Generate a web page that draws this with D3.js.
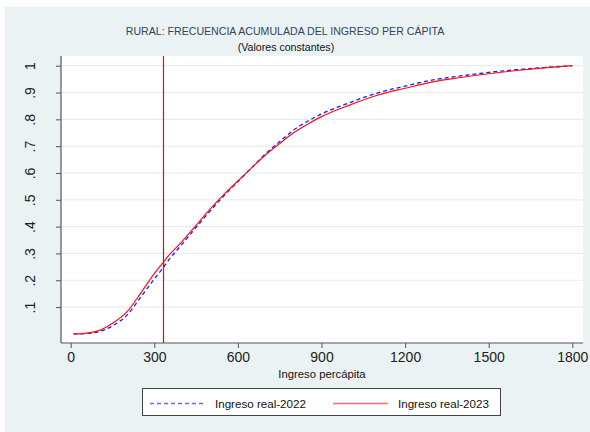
<!DOCTYPE html>
<html><head><meta charset="utf-8">
<script src="https://cdn.jsdelivr.net/npm/d3@7"></script>
<style>body{margin:0;background:#fff}svg{display:block}text{font-family:"Liberation Sans",Arial,sans-serif}</style>
</head><body><svg id="c" width="590" height="432"></svg>
<script>
const income = [10, 50, 100, 150, 200, 250, 300, 334, 350, 400, 450, 500, 550, 600, 650, 700, 750, 800, 850, 900, 1000, 1100, 1200, 1300, 1400, 1500, 1600, 1700, 1800];
const cdf2022 = [0, 0.001, 0.008, 0.03, 0.068, 0.135, 0.205, 0.25, 0.273, 0.335, 0.397, 0.458, 0.515, 0.568, 0.62, 0.672, 0.717, 0.76, 0.793, 0.82, 0.862, 0.898, 0.924, 0.947, 0.962, 0.975, 0.985, 0.993, 1.0];
const cdf2023 = [0, 0.002, 0.012, 0.04, 0.08, 0.15, 0.225, 0.269, 0.29, 0.345, 0.405, 0.465, 0.52, 0.57, 0.62, 0.668, 0.71, 0.75, 0.782, 0.81, 0.853, 0.89, 0.916, 0.94, 0.956, 0.97, 0.982, 0.992, 1.0];
const povertyLine = 333;
const xTicks = [0, 300, 600, 900, 1200, 1500, 1800];
const yTicks = [0.1, 0.2, 0.3, 0.4, 0.5, 0.6, 0.7, 0.8, 0.9, 1];
const yTickLabels = [".1", ".2", ".3", ".4", ".5", ".6", ".7", ".8", ".9", "1"];
const seriesNames = ["Ingreso real-2022", "Ingreso real-2023"];
const title = "RURAL: FRECUENCIA ACUMULADA DEL INGRESO PER CÁPITA";
const subtitle = "(Valores constantes)";
const xLabel = "Ingreso percápita";

const svg = d3.select("#c");
svg.append("rect").attr("x",5).attr("y",7).attr("width",585).attr("height",425).attr("fill","#EAF2F3");

const L=61, R=583, T=56, B=343;
svg.append("rect").attr("x",L).attr("y",T).attr("width",R-L).attr("height",B-T).attr("fill","#fff");

const x = d3.scaleLinear().domain([0,1800]).range([70.7,572.3]);
const y = d3.scaleLinear().domain([0,1]).range([333.9,65.7]);

// gridlines
svg.append("g").selectAll("line").data(yTicks).join("line")
  .attr("x1",L).attr("x2",R).attr("y1",d=>y(d)).attr("y2",d=>y(d))
  .attr("stroke","#E6EDEF").attr("stroke-width",1.2);

// y axis
const yAxis = svg.append("g").attr("transform",`translate(${L},0)`)
  .call(d3.axisLeft(y).tickValues(yTicks).tickSize(5).tickFormat((d,i)=>yTickLabels[i]));
yAxis.select(".domain").attr("d",`M0,${T}V${B}`).attr("stroke","#555").attr("stroke-width",1.2);
yAxis.selectAll(".tick line").attr("stroke","#555");
yAxis.selectAll(".tick text").attr("transform","rotate(-90)").attr("x",0).attr("y",-26)
  .attr("dy",0).attr("text-anchor","middle").attr("font-size",14).attr("fill","#222");

// x axis
const xAxis = svg.append("g").attr("transform",`translate(0,${B})`)
  .call(d3.axisBottom(x).tickValues(xTicks).tickSize(5).tickFormat(d3.format("d")));
xAxis.select(".domain").attr("d",`M${L},0H${R}`).attr("stroke","#555").attr("stroke-width",1.2);
xAxis.selectAll(".tick line").attr("stroke","#555");
xAxis.selectAll(".tick text").attr("y",19).attr("dy",0).attr("font-size",14).attr("fill","#222");

// lines
const line = (vals) => d3.line().x((d,i)=>x(income[i])).y(d=>y(d)).curve(d3.curveMonotoneX)(vals);
svg.append("path").attr("d",line(cdf2022)).attr("fill","none").attr("stroke","#1a1aff")
  .attr("stroke-width",1.3).attr("stroke-dasharray","4,3");
svg.append("path").attr("d",line(cdf2023)).attr("fill","none").attr("stroke","#ff1010")
  .attr("stroke-width",1.2);

// vertical line
const vx = Math.round(x(povertyLine)) + 0.5;
svg.append("line").attr("x1",vx).attr("x2",vx).attr("y1",T).attr("y2",B)
  .style("stroke","#ff0000").style("stroke-width","1.2px");

// titles
svg.append("text").attr("x",285).attr("y",35).attr("text-anchor","middle").attr("font-size",10.6)
  .attr("fill","#34425f").text(title);
svg.append("text").attr("x",286).attr("y",50.5).attr("text-anchor","middle").attr("font-size",10.6)
  .attr("fill","#111").text(subtitle);
svg.append("text").attr("x",(L+R)/2).attr("y",378).attr("text-anchor","middle").attr("font-size",11.3)
  .attr("fill","#111").text(xLabel);

// legend
const lg = svg.append("g");
lg.append("rect").attr("x",142.5).attr("y",388.5).attr("width",358).attr("height",27)
  .attr("fill","#fff").attr("stroke","#444").attr("stroke-width",1);
const legendItems = [
  {name:seriesNames[0], x1:150, x2:205, tx:215, color:"#6a6aff", dash:"4,3"},
  {name:seriesNames[1], x1:333, x2:388, tx:398, color:"#ff6a6a", dash:null}
];
legendItems.forEach(it=>{
  lg.append("line").attr("x1",it.x1).attr("x2",it.x2).attr("y1",403.5).attr("y2",403.5)
    .attr("stroke",it.color).attr("stroke-width",1.3).attr("stroke-dasharray",it.dash);
  lg.append("text").attr("x",it.tx).attr("y",407.5).attr("font-size",11.6).attr("fill","#111").text(it.name);
});
</script></body></html>
